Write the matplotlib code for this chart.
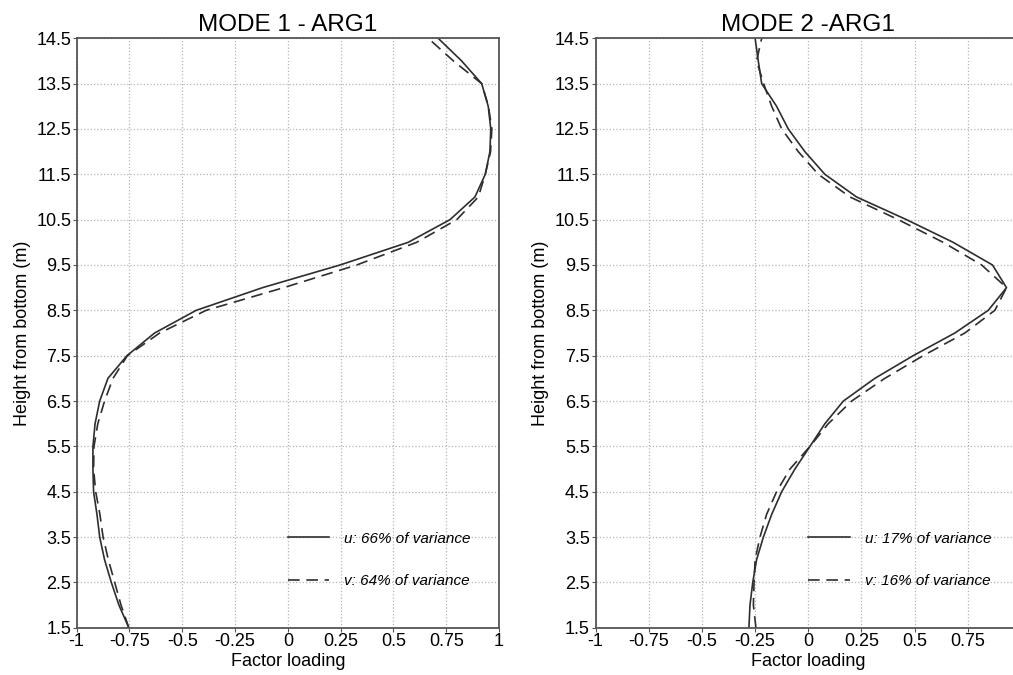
import matplotlib
matplotlib.use("Agg")
import matplotlib.pyplot as plt
import numpy as np

plt.rcParams['font.family'] = ['Liberation Sans', 'DejaVu Sans']

# heights (m), every 0.5 m
height = [1.5, 2.0, 2.5, 3.0, 3.5, 4.0, 4.5, 5.0, 5.5, 6.0, 6.5, 7.0, 7.5, 8.0,
          8.5, 9.0, 9.5, 10.0, 10.5, 11.0, 11.5, 12.0, 12.5, 13.0, 13.5, 14.0, 14.5]

# mode 1
u_mode1 = [-0.753, -0.80, -0.836, -0.868, -0.891, -0.904, -0.92, -0.923, -0.923,
           -0.913, -0.891, -0.852, -0.762, -0.631, -0.434, -0.12, 0.247, 0.57,
           0.768, 0.886, 0.935, 0.957, 0.961, 0.949, 0.918, 0.823, 0.712]
v_mode1 = [-0.753, -0.79, -0.82, -0.85, -0.875, -0.89, -0.91, -0.92, -0.918,
           -0.90, -0.868, -0.828, -0.76, -0.607, -0.387, -0.02, 0.326, 0.61,
           0.80, 0.902, 0.935, 0.96, 0.966, 0.95, 0.918, 0.784, 0.665]

# mode 2
u_mode2 = [-0.279, -0.274, -0.261, -0.243, -0.211, -0.172, -0.125, -0.063, 0.008,
           0.078, 0.165, 0.313, 0.493, 0.689, 0.846, 0.932, 0.866, 0.681,
           0.462, 0.227, 0.078, -0.016, -0.094, -0.149, -0.219, -0.235, -0.25]
v_mode2 = [-0.246, -0.258, -0.255, -0.25, -0.227, -0.196, -0.149, -0.086, 0.008,
           0.094, 0.204, 0.36, 0.54, 0.736, 0.877, 0.932, 0.815, 0.634,
           0.423, 0.196, 0.047, -0.047, -0.125, -0.172, -0.21, -0.243, -0.219]

titles = ["MODE 1 - ARG1", "MODE 2 -ARG1"]
u_labels = ["u: 66% of variance", "u: 17% of variance"]
v_labels = ["v: 64% of variance", "v: 16% of variance"]

xticks = [-1, -0.75, -0.5, -0.25, 0, 0.25, 0.5, 0.75, 1]
xticklabels = [["-1", "-0.75", "-0.5", "-0.25", "0", "0.25", "0.5", "0.75", "1"],
               ["-1", "-0.75", "-0.5", "-0.25", "0", "0.25", "0.5", "0.75", ""]]
yticks = [1.5, 2.5, 3.5, 4.5, 5.5, 6.5, 7.5, 8.5, 9.5, 10.5, 11.5, 12.5, 13.5, 14.5]

fig = plt.figure(figsize=(10.13, 6.75), dpi=100)
ax1 = fig.add_axes([0.0757, 0.07, 0.4169, 0.8733])
# right panel runs a little past the figure edge, as in the original
ax2 = fig.add_axes([0.5879, 0.07, 0.4200, 0.8733])

series = [(u_mode1, v_mode1), (u_mode2, v_mode2)]
line_col = '#2e2e2e'

for i, ax in enumerate([ax1, ax2]):
    u, v = series[i]
    ax.plot(u, height, color=line_col, lw=1.2, ls='-', label=u_labels[i])
    ax.plot(v, height, color=line_col, lw=1.2, ls=(0, (7, 4)), label=v_labels[i])
    ax.set_xlim(-1, 1)
    ax.set_ylim(1.5, 14.5)
    ax.set_xticks(xticks)
    ax.set_xticklabels(xticklabels[i])
    ax.set_yticks(yticks)
    ax.set_yticklabels([str(t) for t in yticks])
    ax.tick_params(labelsize=13, length=3, width=0.8, color='#555555', pad=1)
    ax.grid(True, ls=':', color='#b5b5b5', lw=0.9)
    for s in ax.spines.values():
        s.set_color('#555555')
        s.set_linewidth(1.3)
    ax.set_title(titles[i], fontsize=17.5, pad=5)
    ax.set_xlabel("Factor loading", fontsize=13, labelpad=2)
    ax.set_ylabel("Height from bottom (m)", fontsize=13, labelpad=4)
    ax.legend(loc='center left', bbox_to_anchor=(0.5, 0.1154), frameon=False,
              prop={'style': 'italic', 'size': 11}, handlelength=2.7,
              handletextpad=1.0, labelspacing=1.85, borderpad=0, borderaxespad=0)

fig.savefig("out.png", dpi=100)
